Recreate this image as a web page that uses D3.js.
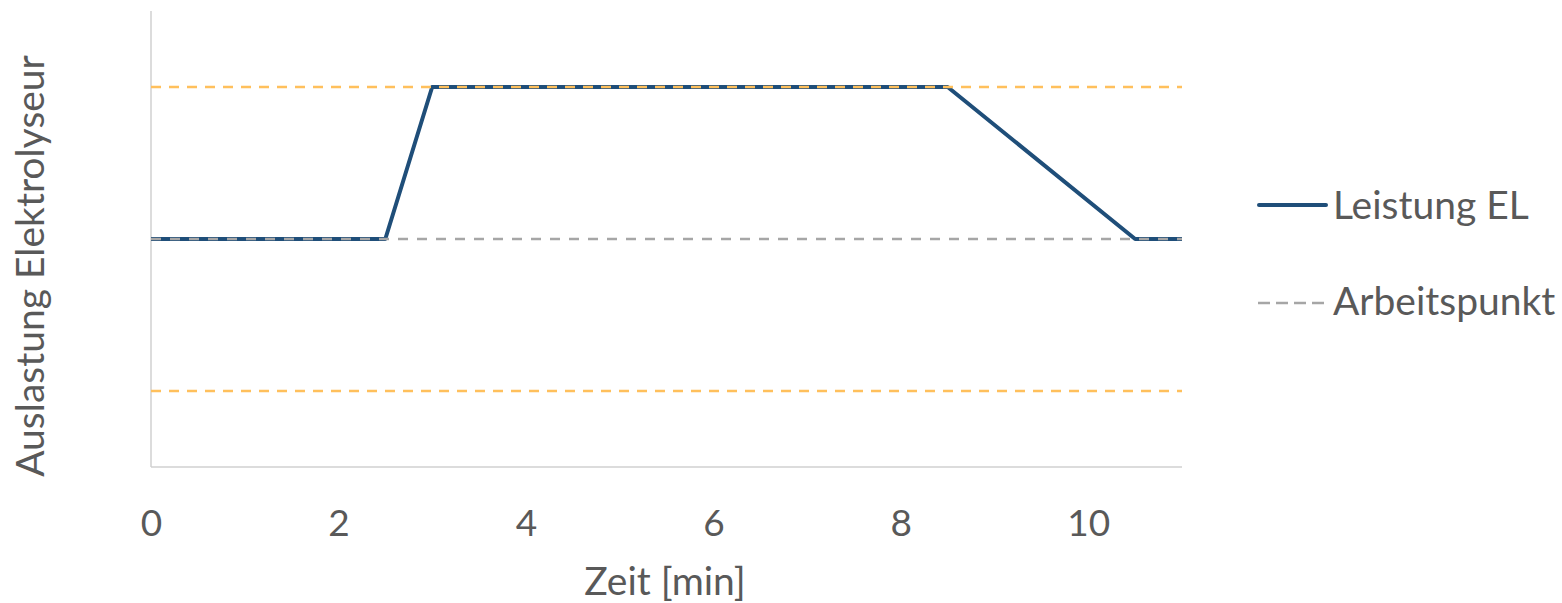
<!DOCTYPE html>
<html>
<head>
<meta charset="utf-8">
<script src="https://cdn.jsdelivr.net/npm/d3@7"></script>
<style>
  html, body { margin: 0; padding: 0; background: #fff; }
  svg text { font-family: Lato, "Open Sans", sans-serif; fill: #595959; }
</style>
</head>
<body>
<svg id="chart" width="1562" height="603"></svg>
<script>
// Time axis ticks (minutes)
const xTicks = [0, 2, 4, 6, 8, 10];

// Electrolyser load profile: time [min] and relative load
const timeMin = [0, 2.5, 3, 8.5, 10.5, 11];
const leistungEL = [1, 1, 1.5, 1.5, 1, 1];

// Reference levels
const arbeitspunkt = 1.0;
const grenzen = [1.5, 0.5];

const svg = d3.select("#chart");
const x = d3.scaleLinear().domain([0, 11]).range([151, 1182]);
const y = d3.scaleLinear().domain([0.25, 1.75]).range([467, 11]);

// Axis lines
svg.append("line").attr("x1", x(0)).attr("x2", x(0)).attr("y1", y(1.75)).attr("y2", y(0.25))
  .attr("stroke", "#D0D0D0").attr("stroke-width", 1.5);
svg.append("line").attr("x1", x(0)).attr("x2", x(11)).attr("y1", y(0.25)).attr("y2", y(0.25))
  .attr("stroke", "#D0D0D0").attr("stroke-width", 1.5);

// Tick labels
const xAxis = d3.axisBottom(x).tickValues(xTicks).tickSize(0).tickPadding(0).tickFormat(d3.format("d"));
const gx = svg.append("g").attr("transform", `translate(0,${y(0.25)})`).call(xAxis);
gx.select(".domain").remove();
gx.selectAll("text").attr("dy", null).attr("y", 69)
  .style("font-size", "37px").style("font-family", "Lato, sans-serif").attr("fill", "#595959");

const line = d3.line().x((d, i) => x(timeMin[i])).y(d => y(d));

// Load profile
svg.append("path").datum(leistungEL).attr("d", line)
  .attr("fill", "none").attr("stroke", "#1F4E79").attr("stroke-width", 4)
  .attr("stroke-linejoin", "round");

// Limit lines (orange dashed), drawn above the load profile
svg.selectAll("line.grenze").data(grenzen).join("line").attr("class", "grenze")
  .attr("x1", x(0)).attr("x2", x(11)).attr("y1", d => y(d)).attr("y2", d => y(d))
  .attr("stroke", "#FFC05C").attr("stroke-width", 2.5).attr("stroke-dasharray", "10,8");

// Working point (grey dashed)
svg.append("line").attr("x1", x(0)).attr("x2", x(11)).attr("y1", y(arbeitspunkt)).attr("y2", y(arbeitspunkt))
  .attr("stroke", "#A6A6A6").attr("stroke-width", 2.5).attr("stroke-dasharray", "10,9");

// Axis titles
svg.append("text").attr("x", 665).attr("y", 595).attr("text-anchor", "middle")
  .style("font-size", "39px").text("Zeit [min]");
svg.append("text").attr("transform", `translate(44,266) rotate(-90)`).attr("text-anchor", "middle")
  .style("font-size", "39px").text("Auslastung Elektrolyseur");

// Legend
const legend = svg.append("g");
legend.append("line").attr("x1", 1259).attr("x2", 1326).attr("y1", 205).attr("y2", 205)
  .attr("stroke", "#1F4E79").attr("stroke-width", 4).attr("stroke-linecap", "round");
legend.append("text").attr("x", 1333).attr("y", 219).style("font-size", "39px").text("Leistung EL");
legend.append("line").attr("x1", 1258).attr("x2", 1324).attr("y1", 303).attr("y2", 303)
  .attr("stroke", "#A6A6A6").attr("stroke-width", 2.5).attr("stroke-dasharray", "12,6");
legend.append("text").attr("x", 1333).attr("y", 315).style("font-size", "39px").text("Arbeitspunkt");
</script>
</body>
</html>
